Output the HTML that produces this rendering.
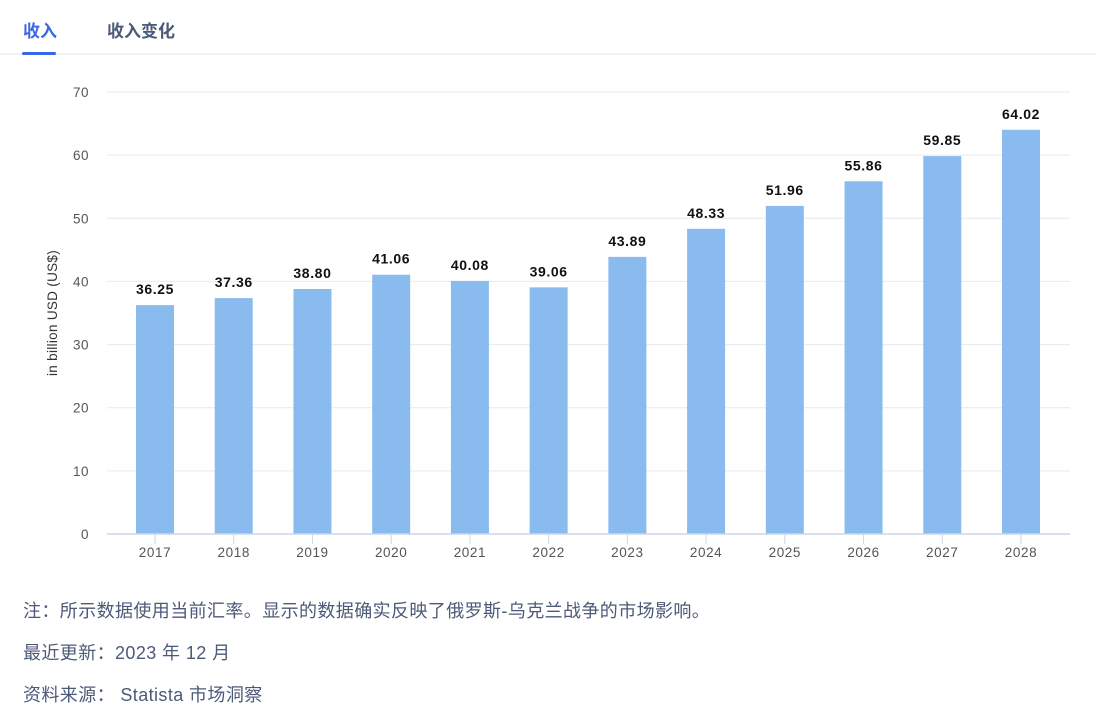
<!DOCTYPE html>
<html><head><meta charset="utf-8"><style>
body{margin:0;width:1096px;height:712px;background:#fff;overflow:hidden;font-family:"Liberation Sans","Noto Sans CJK SC",sans-serif;position:relative}
.tab{position:absolute;top:17px;font-size:17px;font-weight:bold}
.note{position:absolute;left:23px;font-size:18px;color:#4c5a78;letter-spacing:0.4px}
</style></head><body>
<div style="position:absolute;left:0;top:53px;width:1096px;height:2px;background:#eef2f7"></div>
<div class="tab" style="left:23px;color:#3a67e8">收入</div>
<div style="position:absolute;left:22px;top:52px;width:34px;height:3px;background:#3a67e8;border-radius:2px"></div>
<div class="tab" style="left:107px;color:#4a5a78">收入变化</div>
<svg id="chart" width="1096" height="580" style="position:absolute;left:0;top:0"></svg>
<div class="note" style="top:597px">注：所示数据使用当前汇率。显示的数据确实反映了俄罗斯-乌克兰战争的市场影响。</div>
<div class="note" style="top:639px">最近更新：2023 年 12 月</div>
<div class="note" style="top:681px">资料来源： Statista 市场洞察</div>
<script>
const categories=["2017","2018","2019","2020","2021","2022","2023","2024","2025","2026","2027","2028"];
const values=[36.25,37.36,38.80,41.06,40.08,39.06,43.89,48.33,51.96,55.86,59.85,64.02];
const yTicks=[0,10,20,30,40,50,60,70];
const svg=document.getElementById('chart');const NS='http://www.w3.org/2000/svg';
const x0=107,x1=1070,yb=534,yt=92,ymax=70;
const cFirst=155,cLast=1021;
const step=(cLast-cFirst)/(categories.length-1);
const xc=i=>cFirst+step*i;
const y=v=>yb-(v/ymax)*(yb-yt);
function mk(t,a,txt){const e=document.createElementNS(NS,t);for(const k in a)e.setAttribute(k,a[k]);if(txt!=null)e.textContent=txt;svg.appendChild(e);return e;}
yTicks.forEach(t=>{
 if(t>0){const l=mk('line',{x1:x0,x2:x1,y1:y(t),y2:y(t),stroke:'#e6e9ee','stroke-width':1});
 
 }
 const tx=mk('text',{x:89,y:y(t)+5,'text-anchor':'end','font-size':13.5,fill:'#555','letter-spacing':0.5,'font-family':'Liberation Sans'},t);
 
 
});
const yl=mk('text',{transform:'translate(57,313) rotate(-90)','text-anchor':'middle','font-size':13.5,fill:'#333','letter-spacing':0.3,'font-family':'Liberation Sans'},'in billion USD (US$)');


categories.forEach((c,i)=>{
 const b=mk('rect',{x:xc(i)-19,y:y(values[i]),width:38,height:yb-y(values[i]),fill:'#8abbef'});
 
 
 const lb=mk('text',{x:xc(i),y:y(values[i])-11,'text-anchor':'middle','font-size':14,fill:'#111','letter-spacing':0.6,'font-weight':'bold','font-family':'Liberation Sans'},values[i].toFixed(2));
 
 
 const tk=mk('line',{x1:xc(i),x2:xc(i),y1:yb,y2:yb+10,stroke:'#ccd6eb'});
 
 
 const xl=mk('text',{x:xc(i),y:557,'text-anchor':'middle','font-size':13.5,fill:'#555','letter-spacing':0.6,'font-family':'Liberation Sans'},c);
 
 
});
const ax=mk('line',{x1:x0,x2:x1,y1:yb,y2:yb,stroke:'#ccd6eb','stroke-width':1.5});


</script>
</body></html>
